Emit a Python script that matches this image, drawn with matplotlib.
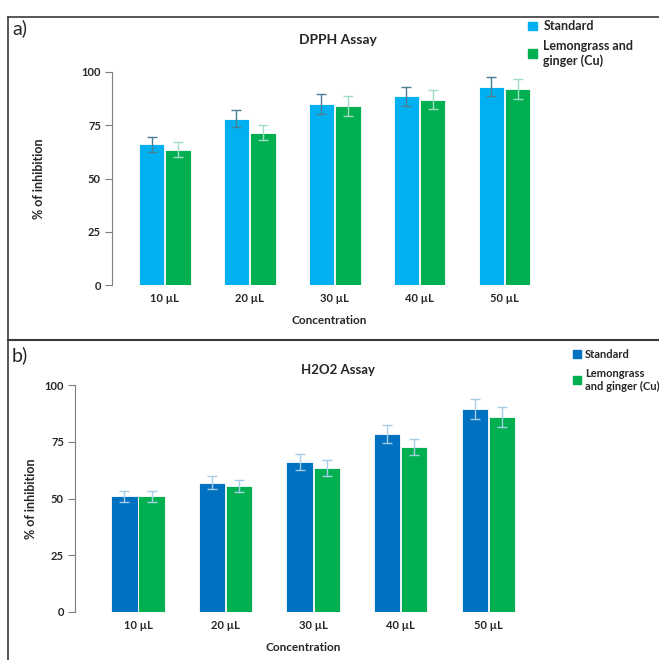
import numpy as np
import matplotlib
matplotlib.use("Agg")
import matplotlib.pyplot as plt
from matplotlib.lines import Line2D
from matplotlib.patches import Patch

plt.rcParams['font.family'] = ['Lato', 'DejaVu Sans']

concentrations = ['10 µL', '20 µL', '30 µL', '40 µL', '50 µL']
yticks = [0, 25, 50, 75, 100]

# DPPH assay
dpph_standard = [66, 78, 85, 88.5, 93]
dpph_standard_err = [3.5, 4, 4.5, 4.5, 4.5]
dpph_lemon = [63.5, 71.5, 84, 87, 92]
dpph_lemon_err = [3.5, 3.5, 4.5, 4.5, 4.5]

# H2O2 assay
h2o2_standard = [51, 57, 66, 78.5, 89.5]
h2o2_standard_err = [2.5, 3, 3.5, 4, 4.5]
h2o2_lemon = [51, 55.5, 63.5, 72.5, 86]
h2o2_lemon_err = [2.5, 2.5, 3.5, 3.5, 4.5]

W, H = 659, 660
fig = plt.figure(figsize=(W / 100, H / 100), dpi=100)


def px(x0, y0, x1, y1):
    return [x0 / W, 1 - y1 / H, (x1 - x0) / W, (y1 - y0) / H]


def panel(ax, std, std_err, lem, lem_err, std_color, std_ecol, lem_ecol, xl, ylpad):
    x = np.arange(len(concentrations))
    bw = 0.3
    ax.bar(x - 0.155, std, bw, color=std_color, edgecolor='white', linewidth=0.6)
    ax.bar(x + 0.155, lem, bw, color='#00B050', edgecolor='white', linewidth=0.6)
    ax.errorbar(x - 0.155, std, yerr=std_err, fmt='none', ecolor=std_ecol,
                elinewidth=1.0, capsize=3.5, capthick=1.0)
    ax.errorbar(x + 0.155, lem, yerr=lem_err, fmt='none', ecolor=lem_ecol,
                elinewidth=1.0, capsize=3.5, capthick=1.0)
    ax.set_xlim(xl, 4.5)
    ax.set_ylim(0, 100)
    ax.set_yticks(yticks)
    ax.set_xticks(x)
    ax.set_xticklabels(concentrations)
    for s in ['top', 'right', 'bottom']:
        ax.spines[s].set_visible(False)
    ax.spines['left'].set_color('#7f7f7f')
    ax.tick_params(axis='y', color='#7f7f7f', length=5, labelsize=8, pad=3)
    ax.tick_params(axis='x', length=0, labelsize=8, pad=6)
    for lab in ax.get_xticklabels() + ax.get_yticklabels():
        lab.set_fontweight('bold')
        lab.set_color('#262626')
    ax.set_xlabel('Concentration', fontsize=8.5, fontweight='bold', color='#262626', labelpad=8)
    ax.set_ylabel('% of inhibition', fontsize=9, fontweight='bold', color='#262626', labelpad=ylpad)


# panel a)
ax1 = fig.add_axes(px(112, 72, 547, 285))
panel(ax1, dpph_standard, dpph_standard_err, dpph_lemon, dpph_lemon_err,
      '#00B0F0', '#4a7f91', '#a3dcc4', -0.62, 26)
fig.text(338 / W, 1 - 40 / H, 'DPPH Assay', ha='center', va='center',
         fontsize=10, fontweight='bold', color='#262626')
fig.text(12 / W, 1 - 28 / H, 'a)', ha='left', va='center', fontsize=14, color='#262626')
fig.legend(handles=[Patch(color='#00B0F0', label='Standard'),
                    Patch(color='#00B050', label='Lemongrass and\nginger (Cu)')],
           loc='upper left', bbox_to_anchor=(517 / W, 1 - 9 / H), frameon=False,
           handlelength=0.7, handleheight=0.7, handletextpad=0.5, labelspacing=0.6,
           prop={'size': 9, 'weight': 'bold'}, labelcolor='#262626')

# panel b)
ax2 = fig.add_axes(px(75, 385, 532, 612))
panel(ax2, h2o2_standard, h2o2_standard_err, h2o2_lemon, h2o2_lemon_err,
      '#0070C0', '#a8cde8', '#a8cde8', -0.72, 5)
fig.text(338 / W, 1 - 370 / H, 'H2O2 Assay', ha='center', va='center',
         fontsize=9.5, fontweight='bold', color='#262626')
fig.text(12 / W, 1 - 355 / H, 'b)', ha='left', va='center', fontsize=14, color='#262626')
fig.legend(handles=[Patch(color='#0070C0', label='Standard'),
                    Patch(color='#00B050', label='Lemongrass\nand ginger (Cu)')],
           loc='upper left', bbox_to_anchor=(563 / W, 1 - 339 / H), frameon=False,
           handlelength=0.7, handleheight=0.7, handletextpad=0.4, labelspacing=0.7,
           prop={'size': 8, 'weight': 'bold'}, labelcolor='#262626')

# panel frames
lc = '#3a3a3a'
fig.add_artist(Line2D([8 / W, 1], [1 - 17 / H, 1 - 17 / H], color=lc, lw=1.2))
fig.add_artist(Line2D([8 / W, 8 / W], [1 - 17 / H, 1 - 340 / H], color=lc, lw=1.2))
fig.add_artist(Line2D([8 / W, 1], [1 - 340 / H, 1 - 340 / H], color=lc, lw=1.5))
fig.add_artist(Line2D([8 / W, 8 / W], [1 - 340 / H, 0], color=lc, lw=1.2))

fig.savefig('out.png', dpi=100)
